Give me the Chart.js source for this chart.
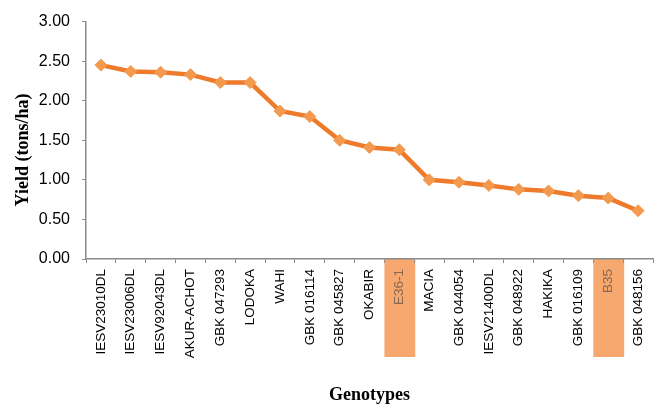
<!DOCTYPE html>
<html>
<head>
<meta charset="utf-8">
<script src="https://cdn.jsdelivr.net/npm/chart.js@4"></script>
<style>
  html, body { margin: 0; padding: 0; background: #fff; }
  canvas { display: block; }
</style>
</head>
<body>
<canvas id="yieldChart" width="662" height="406"></canvas>
<script>
// genotypes ranked by yield
const genotypes = ['IESV23010DL', 'IESV23006DL', 'IESV92043DL', 'AKUR-ACHOT', 'GBK 047293', 'LODOKA',
  'WAHI', 'GBK 016114', 'GBK 045827', 'OKABIR', 'E36-1', 'MACIA', 'GBK 044054', 'IESV21400DL',
  'GBK 048922', 'HAKIKA', 'GBK 016109', 'B35', 'GBK 048156'];
const yieldTons = [2.45, 2.37, 2.36, 2.33, 2.23, 2.23, 1.87, 1.80, 1.50, 1.41, 1.38,
  1.00, 0.97, 0.93, 0.88, 0.86, 0.80, 0.77, 0.61];
const checks = ['E36-1', 'B35'];   // check varieties, highlighted on the axis
const yTicks = [0, 0.5, 1, 1.5, 2, 2.5, 3];

const axisGrey = '#8c8c8c';

// orange boxes behind the check variety labels
const checkBoxes = {
  id: 'checkBoxes',
  beforeDraw(chart) {
    const x = chart.scales.x;
    const ctx = chart.ctx;
    const half = (x.getPixelForValue(1) - x.getPixelForValue(0)) / 2;
    ctx.save();
    ctx.fillStyle = '#f6a86f';
    checks.forEach(name => {
      const i = genotypes.indexOf(name);
      const cx = x.getPixelForValue(i);
      ctx.fillRect(cx - half, x.top, half * 2 + 1, 98);
    });
    ctx.restore();
  }
};

// y title sits a bit below the axis middle in the original
const yTitle = {
  id: 'yTitle',
  afterDraw(chart) {
    const ctx = chart.ctx;
    ctx.save();
    ctx.translate(23, 150);
    ctx.rotate(-Math.PI / 2);
    ctx.font = 'bold 18px "Liberation Serif"';
    ctx.fillStyle = '#000';
    ctx.textAlign = 'center';
    ctx.textBaseline = 'middle';
    ctx.fillText('Yield (tons/ha)', 0, 0);
    ctx.restore();
  }
};

new Chart(document.getElementById('yieldChart'), {
  type: 'line',
  data: {
    labels: genotypes,
    datasets: [{
      data: yieldTons,
      borderColor: '#ee7b2c',
      borderWidth: 4.5,
      pointStyle: 'rectRot',
      pointRadius: 6,
      pointBackgroundColor: '#f39a4f',
      pointBorderColor: '#f39a4f',
      pointBorderWidth: 1,
      tension: 0
    }]
  },
  options: {
    responsive: false,
    animation: false,
    layout: { padding: { top: 15, right: 9, left: 0, bottom: 0 } },
    plugins: { legend: { display: false }, tooltip: { enabled: false } },
    scales: {
      x: {
        offset: true,
        grid: { offset: true, drawOnChartArea: false, color: axisGrey, tickLength: 4 },
        border: { color: axisGrey, width: 1.5 },
        ticks: {
          autoSkip: false,
          minRotation: 90,
          maxRotation: 90,
          padding: 6,
          font: { family: '"Liberation Sans"', size: 13.5 },
          color: c => checks.includes(genotypes[c.index]) ? '#8a6650' : '#000'
        },
        title: {
          display: true,
          text: 'Genotypes',
          color: '#000',
          font: { family: '"Liberation Serif"', size: 18, weight: 'bold' },
          padding: { top: 2, bottom: 0 }
        },
        afterFit: s => { s.height = 147; }
      },
      y: {
        min: 0,
        max: 3,
        afterBuildTicks: s => { s.ticks = yTicks.map(v => ({ value: v })); },
        grid: { drawOnChartArea: false, color: axisGrey, tickLength: 4 },
        border: { color: axisGrey, width: 1.5 },
        ticks: {
          padding: 12,
          color: '#000',
          font: { family: '"Liberation Sans"', size: 16 },
          callback: v => v.toFixed(2)
        },
        afterFit: s => { s.width = 86; }
      }
    }
  },
  plugins: [checkBoxes, yTitle]
});
</script>
</body>
</html>
